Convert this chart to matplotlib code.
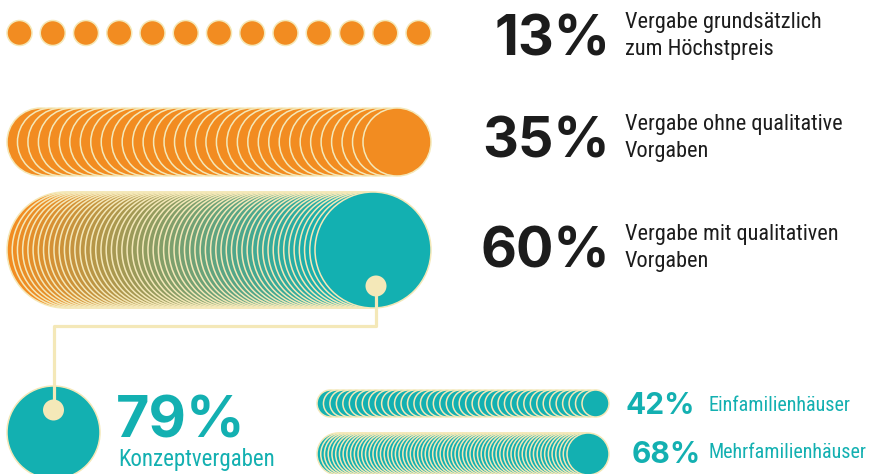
import numpy as np
import matplotlib.pyplot as plt
from matplotlib.patches import Circle
from matplotlib.colors import to_rgb

# Shares (in %) - each row shows one circle per percentage point
shares_top = [13, 35, 60]
labels_top = ["Vergabe grundsätzlich\nzum Höchstpreis",
              "Vergabe ohne qualitative\nVorgaben",
              "Vergabe mit qualitativen\nVorgaben"]
share_concept = 79
label_concept = "Konzeptvergaben"
shares_bottom = [42, 68]
labels_bottom = ["Einfamilienhäuser", "Mehrfamilienhäuser"]

ORANGE = "#F28C21"
TEAL = "#13B0B1"
PALE = "#F4E8B8"
DARK = "#1C1C1C"

big_font = ["Inter", "Roboto", "DejaVu Sans"]
narrow_font = ["Roboto Condensed", "Liberation Sans Narrow", "DejaVu Sans"]

fig = plt.figure(figsize=(8.71, 4.74), dpi=100)
ax = fig.add_axes([0, 0, 1, 1])
ax.set_xlim(0, 871)
ax.set_ylim(474, 0)
ax.set_aspect("equal")
ax.axis("off")


def circle_row(n, x0, x1, cy, r, colors):
    # n circles from left edge x0 to right edge x1, later ones drawn on top
    xs = np.linspace(x0 + r, x1 - r, n)
    for i, cx in enumerate(xs):
        ax.add_patch(Circle((cx, cy), r, facecolor=colors[i],
                            edgecolor=PALE, linewidth=1.1, zorder=2 + i * 0.001))
    return xs


# top rows: (center y, radius)
top_rows = [(33, 12.5), (142, 34), (250, 58)]
o, t = np.array(to_rgb(ORANGE)), np.array(to_rgb(TEAL))
for k, (n, (cy, r)) in enumerate(zip(shares_top, top_rows)):
    if k == 2:
        cols = [tuple(o + (t - o) * f) for f in np.linspace(0, 1, n)]
    else:
        cols = [ORANGE] * n
    xs = circle_row(n, 7, 431, cy, r, cols)

# connector from the 60% circle to the 79% circle
end_x = xs[-1] + 3
conc_x, conc_y, conc_r = 53.5, 432.5, 46.5
ax.plot([end_x, end_x, conc_x, conc_x], [286, 326, 326, 410],
        color=PALE, linewidth=2.3, solid_capstyle="butt", zorder=5)
ax.add_patch(Circle((conc_x, conc_y), conc_r, facecolor=TEAL,
                    edgecolor=PALE, linewidth=1.1, zorder=3))
ax.add_patch(Circle((end_x, 286), 10.5, facecolor=PALE, edgecolor="none", zorder=6))
ax.add_patch(Circle((conc_x, 410), 10.5, facecolor=PALE, edgecolor="none", zorder=6))

# bottom rows
bottom_rows = [(403.5, 13.5), (454, 21)]
for n, (cy, r) in zip(shares_bottom, bottom_rows):
    circle_row(n, 317, 609, cy, r, [TEAL] * n)

# top texts
num_base = [55, 157, 267]
for n, lab, yb in zip(shares_top, labels_top, num_base):
    ax.text(610, yb, f"{n}%", family=big_font, fontweight="bold", fontsize=40,
            color=DARK, ha="right", va="baseline")
    l1, l2 = lab.split("\n")
    ax.text(625, yb - 27, l1, family=narrow_font, fontsize=16, color=DARK,
            ha="left", va="baseline")
    ax.text(625, yb, l2, family=narrow_font, fontsize=16, color=DARK,
            ha="left", va="baseline")

# concept text
ax.text(116, 437, f"{share_concept}%", family=big_font, fontweight="bold",
        fontsize=41.5, color=TEAL, ha="left", va="baseline")
ax.text(118, 466, label_concept, family=narrow_font, fontsize=16.5, color=TEAL,
        ha="left", va="baseline")

# bottom texts
b_x = [625, 632]
b_base = [414, 463]
lab_base = [411, 458]
for n, lab, xn, yb, yl in zip(shares_bottom, labels_bottom, b_x, b_base, lab_base):
    ax.text(xn, yb, f"{n}%", family=big_font, fontweight="bold", fontsize=21.5,
            color=TEAL, ha="left", va="baseline")
    ax.text(708, yl, lab, family=narrow_font, fontsize=14.5, color=TEAL,
            ha="left", va="baseline")

fig.savefig("out.png", dpi=100, facecolor="white")
